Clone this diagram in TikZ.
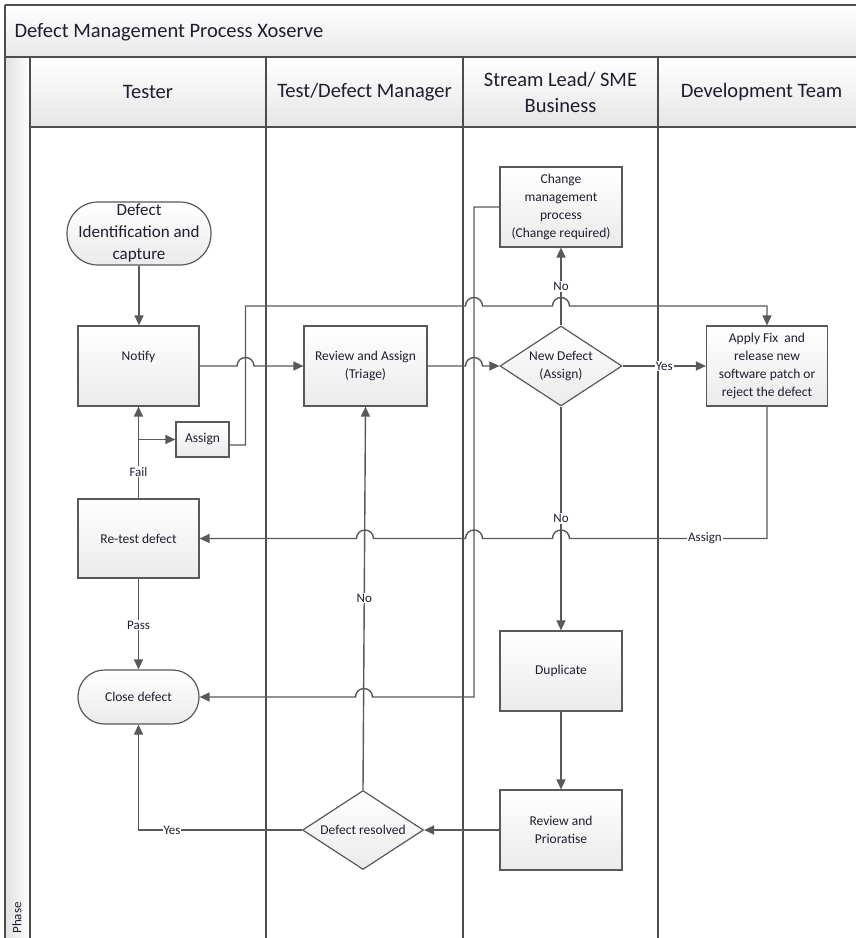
\documentclass[tikz,border=0pt]{standalone}
\usepackage{fontspec}
\setmainfont{Carlito}
\usetikzlibrary{arrows.meta,shapes.geometric,shapes.misc}
\definecolor{lineC}{HTML}{595959}
\definecolor{laneC}{HTML}{4D4D4D}
\definecolor{txtC}{HTML}{1E1E32}
\newcommand{\fsz}[2]{\fontsize{#1}{#2}\selectfont}
\begin{document}
\begin{tikzpicture}[x=1pt,y=-1pt,
  nbox/.style={draw=lineC,line width=1.2pt,top color=white,bottom color=black!8,text=txtC,align=center,inner sep=0pt,font=\fsz{13.5}{17.7}},
  procbox/.style={nbox,rectangle,minimum width=121pt,minimum height=80pt},
  termbox/.style={nbox,rectangle,rounded corners=26.5pt,minimum width=121pt,minimum height=54pt},
  decbox/.style={nbox,diamond,aspect=1.5,minimum width=122pt,minimum height=80pt},
  conn/.style={draw=lineC,line width=1.4pt,-{Triangle[length=10pt,width=9pt]}},
  lbl/.style={fill=white,inner sep=1pt,text=txtC,font=\fsz{13}{15}},
  lane/.style={draw=laneC,line width=1.8pt},
  hdr/.style={text=txtC,font=\fsz{20.5}{26},align=center}
]
\useasboundingbox (0,0) rectangle (856,938);
\fill[white] (0,0) rectangle (856,938);
% bands
\fill[top color=white,bottom color=black!9] (5,5) rectangle (856,57);
\fill[top color=white,bottom color=black!10] (30,57) rectangle (856,127);
\fill[left color=black!12,right color=white] (5,57) rectangle (30,938);
\draw[lane] (5,5) -- (856,5);
\draw[lane] (5,5) -- (5,938);
\draw[lane] (5,57) -- (856,57);
\draw[lane] (30,57) -- (30,938);
\draw[lane] (30,127) -- (856,127);
\draw[lane] (266,57) -- (266,938);
\draw[lane] (463,57) -- (463,938);
\draw[lane] (658,57) -- (658,938);
% titles
\node[hdr,anchor=west] (title) at (11,32) {Defect Management Process Xoserve};
\node[hdr] (h1) at (148,92) {Tester};
\node[hdr] (h2) at (364.5,92) {Test/Defect Manager};
\node[hdr] (h3) at (560.5,92) {Stream Lead/ SME\\Business};
\node[hdr] (h4) at (761.5,92) {Development Team};
\node[rotate=90,text=txtC,font=\fsz{13}{15}] (phase) at (17,918) {Phase};
% nodes
\node[nbox,rectangle,rounded corners=31pt,minimum width=144pt,minimum height=63pt,font=\fsz{17}{22}] (defid) at (139,233.5) {Defect\\Identification and\\capture};
\node[procbox] (notify) at (138.5,366) {\raisebox{9pt}[\height][\depth]{Notify}};
\node[nbox,rectangle,minimum width=53pt,minimum height=35pt] (asg) at (202.5,439.5) {Assign};
\node[procbox,minimum width=123pt] (tri) at (365.5,366) {Review and Assign\\(Triage)};
\node[decbox] (newd) at (561,366) {New Defect\\(Assign)};
\node[procbox,minimum width=122pt] (chg) at (561,207) {Change\\management\\process\\(Change required)};
\node[procbox] (fix) at (767,366) {Apply Fix\ \ and\\release new\\software patch or\\reject the defect};
\node[procbox,minimum height=79pt] (retest) at (138.5,538.5) {Re-test defect};
\node[termbox] (close) at (138.5,697) {Close defect};
\node[procbox,minimum width=122pt] (dup) at (561,671) {Duplicate};
\node[procbox,minimum width=122pt] (rp) at (561,830) {Review and\\Prioratise};
\node[decbox,minimum width=121pt,minimum height=79pt] (res) at (363,830) {Defect resolved};
% connectors
\draw[conn] (defid.south) -- (defid.south |- notify.north);
\draw[conn] (notify.east) -- (237,366) arc[start angle=180,end angle=0,radius=8.5pt] -- (tri.west);
\draw[conn] ([yshift=-5.5pt]asg.east) -| (245.5,306) -- (465.5,306) arc[start angle=180,end angle=0,radius=8.5pt]
   -- (552.5,306) arc[start angle=180,end angle=0,radius=8.5pt] -| (fix.north);
\draw[conn] (retest.north) -- (notify.south) node[lbl,pos=0.29] (lfail) {Fail};
\draw[conn] (notify.south |- asg.west) -- (asg.west);
\draw[conn] (tri.east) -- (465.5,366) arc[start angle=180,end angle=0,radius=8.5pt] -- (newd.west);
\draw[conn] (newd.north) -- (chg.south) node[lbl,pos=0.5] (lno1) {No};
\draw[conn] (newd.east) -- (fix.west) node[lbl,pos=0.5] (lyes1) {Yes};
\draw[conn] (fix.south) |- (569.5,538.5) arc[start angle=0,end angle=180,radius=8.5pt]
   -- (482.5,538.5) arc[start angle=0,end angle=180,radius=8.5pt]
   -- (373.5,538.5) arc[start angle=0,end angle=180,radius=8.5pt] -- (retest.east);
\node[lbl] (lassign) at (705,538.5) {Assign};
\draw[conn] (newd.south) -- (dup.north) node[lbl,pos=0.5] (lno2) {No};
\draw[conn] (dup.south) -- (rp.north);
\draw[conn] (rp.west) -- (res.east);
\draw[conn] (res.north) -- (tri.south) node[lbl,pos=0.5] (lno3) {No};
\draw[conn] (res.west) -| (close.south);
\node[lbl] (lyes2) at (172,830) {Yes};
\draw[conn] (retest.south) -- (close.north) node[lbl,pos=0.51] (lpass) {Pass};
\draw[conn] (chg.west) -| (474,697) -- (372.5,697) arc[start angle=0,end angle=180,radius=8.5pt] -- (close.east);
\end{tikzpicture}
\end{document}
